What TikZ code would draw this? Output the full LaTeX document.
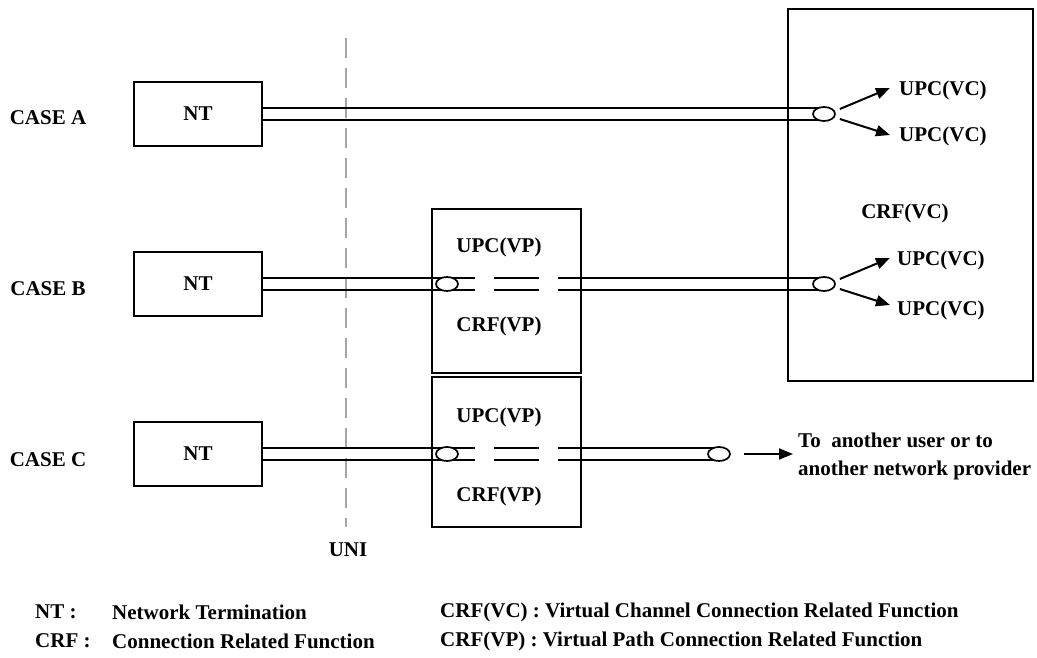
\documentclass[tikz,border=0pt]{standalone}
\usepackage{fontspec}
\setmainfont{Liberation Serif}
\usetikzlibrary{arrows.meta,shapes.geometric}
\begin{document}
\begin{tikzpicture}[x=1pt,y=-1pt,
  lbl/.style={font=\fontsize{21}{23}\selectfont\bfseries, inner sep=0pt},
  box/.style={draw, line width=2pt, inner sep=0pt},
  wire/.style={line width=1.7pt},
  tube/.style={draw, line width=1.7pt, fill=white, ellipse, minimum width=22pt, minimum height=14pt, inner sep=0pt},
  arr/.style={line width=2pt, -{Triangle[length=14pt,width=11pt]}}]
\useasboundingbox (0,0) rectangle (1037,658);
% big box
\node[box, minimum width=245pt, minimum height=372pt] (big) at (910.5,195) {};
% NT boxes
\node[box, minimum width=128pt, minimum height=64pt] (ntA) at (198,114) {};
\node[box, minimum width=128pt, minimum height=64pt] (ntB) at (198,284) {};
\node[box, minimum width=128pt, minimum height=64pt] (ntC) at (198,454) {};
\node[lbl] at (ntA) {NT};
\node[lbl] at (ntB) {NT};
\node[lbl] at (ntC) {NT};
% VP boxes
\node[box, minimum width=149pt, minimum height=164pt] (vpB) at (506.5,291) {};
\node[box, minimum width=149pt, minimum height=150pt] (vpC) at (506.5,452) {};
\node[lbl] (upcB) at (499,247) {UPC(VP)};
\node[lbl] (crfB) at (499,326) {CRF(VP)};
\node[lbl] (upcC) at (499,417) {UPC(VP)};
\node[lbl] (crfC) at (499,496) {CRF(VP)};
% case labels
\node[lbl] (caseA) at (48,118) {CASE A};
\node[lbl] (caseB) at (48,289) {CASE B};
\node[lbl] (caseC) at (48,460) {CASE C};
% UNI
\coordinate (uniT) at (346,38);
\coordinate (uniB) at (346,527);
\draw[gray!70, line width=1.3pt, dash pattern=on 20pt off 10pt] (uniT) -- (uniB);
\node[lbl] (uni) at (348,550) {UNI};
% Case A cable
\coordinate (aE) at (824,114);
\draw[wire] (ntA.east |- 0,108) -- (aE |- 0,108);
\draw[wire] (ntA.east |- 0,120) -- (aE |- 0,120);
\node[tube] (eA) at (aE) {};
\coordinate (a1) at (890,88);
\coordinate (a2) at (890,135);
\draw[arr] (eA.east) ++(4,-5) -- (a1);
\draw[arr] (eA.east) ++(4,5) -- (a2);
\node[lbl, anchor=west] (upcA1) at (899,90) {UPC(VC)};
\node[lbl, anchor=west] (upcA2) at (899,136) {UPC(VC)};
\node[lbl] (crfvc) at (905,213) {CRF(VC)};
% Case B cable
\coordinate (bE) at (824,284);
\foreach \y in {278,290} {
  \draw[wire] (ntB.east |- 0,\y) -- (475,\y);
  \draw[wire] (494,\y) -- (539,\y);
  \draw[wire] (558,\y) -- (bE |- 0,\y);
}
\node[tube] (eB1) at (447,284) {};
\node[tube] (eB) at (bE) {};
\coordinate (b1) at (890,258);
\coordinate (b2) at (890,305);
\draw[arr] (eB.east) ++(4,-5) -- (b1);
\draw[arr] (eB.east) ++(4,5) -- (b2);
\node[lbl, anchor=west] (upcB1) at (897,260) {UPC(VC)};
\node[lbl, anchor=west] (upcB2) at (897,310) {UPC(VC)};
% Case C cable
\coordinate (cE) at (719,454);
\foreach \y in {448,460} {
  \draw[wire] (ntC.east |- 0,\y) -- (475,\y);
  \draw[wire] (494,\y) -- (539,\y);
  \draw[wire] (558,\y) -- (cE |- 0,\y);
}
\node[tube] (eC1) at (447,454) {};
\node[tube] (eC) at (cE) {};
\coordinate (cT) at (793,454);
\draw[arr] (744,454) -- (cT);
\node[lbl, anchor=west] (to1) at (798,440) {To\ \ another user or to};
\node[lbl, anchor=west] (to2) at (798,470) {another network provider};
% legend
\node[lbl, anchor=west] (l1a) at (35,612) {NT :};
\node[lbl, anchor=west] (l1b) at (112,612) {Network Termination};
\node[lbl, anchor=west] (l1c) at (440,612) {CRF(VC) : Virtual Channel Connection Related Function};
\node[lbl, anchor=west] (l2a) at (35,641) {CRF :};
\node[lbl, anchor=west] (l2b) at (112,641) {Connection Related Function};
\node[lbl, anchor=west] (l2c) at (440,641) {CRF(VP) : Virtual Path Connection Related Function};
\end{tikzpicture}
\end{document}
